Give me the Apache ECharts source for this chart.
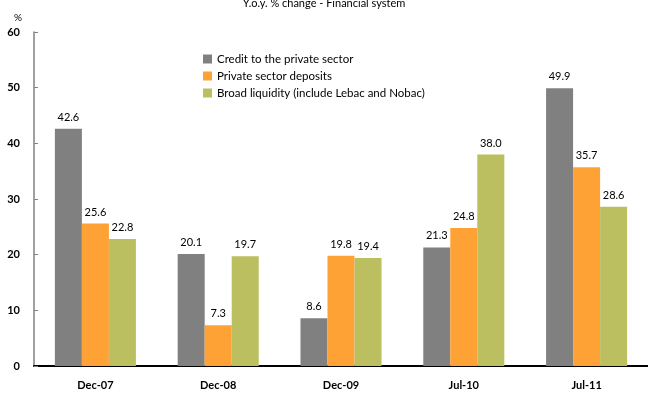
<!DOCTYPE html>
<html>
<head>
<meta charset="utf-8">
<script src="https://cdn.jsdelivr.net/npm/echarts@6/dist/echarts.min.js"></script>
<style>
  html, body { margin: 0; padding: 0; background: #fff; }
  #chart { width: 648px; height: 400px; }
</style>
</head>
<body>
<div id="chart"></div>
<script>
var categories = ["Dec-07", "Dec-08", "Dec-09", "Jul-10", "Jul-11"];
var credit = [42.6, 20.1, 8.6, 21.3, 49.9];
var deposits = [25.6, 7.3, 19.8, 24.8, 35.7];
var liquidity = [22.8, 19.7, 19.4, 38.0, 28.6];
var seriesNames = ["Credit to the private sector", "Private sector deposits", "Broad liquidity (include Lebac and Nobac)"];

var fontFamily = "Lato, 'DejaVu Sans', sans-serif";
var chartDom = echarts.init(document.getElementById("chart"));

function barSeries(name, color, data) {
  return {
    name: name,
    type: "bar",
    color: color,
    barGap: 0,
    barCategoryGap: "34%",
    label: {
      show: true,
      position: "top",
      distance: 6,
      color: "#000",
      fontSize: 11,
      fontFamily: fontFamily,
      formatter: function (p) {
        return p.value.toFixed(1);
      },
    },
    data: data,
  };
}

var option = {
  animation: false,
  title: {
    text: "Y.o.y. % change - Financial system",
    left: "center",
    top: -7,
    textStyle: { fontSize: 11, fontWeight: "normal", color: "#000", fontFamily: fontFamily },
  },
  grid: {
    left: 34,
    top: 32,
    width: 620,
    bottom: 34,
  },
  legend: {
    orient: "vertical",
    left: 198,
    top: 48,
    itemWidth: 9,
    itemHeight: 9,
    itemGap: 5,
    icon: "rect",
    data: seriesNames,
    textStyle: { color: "#000", fontSize: 11.5, fontFamily: fontFamily },
  },
  xAxis: {
    type: "category",
    data: categories,
    axisLine: { lineStyle: { color: "#000", width: 2 } },
    axisTick: { inside: true, length: 5, lineStyle: { color: "#000" } },
    axisLabel: {
      margin: 14,
      color: "#000",
      fontSize: 11,
      fontWeight: "bold",
      fontFamily: fontFamily,
    },
  },
  yAxis: {
    type: "value",
    min: 0,
    max: 60,
    interval: 10,
    name: "%",
    nameGap: 9,
    nameLocation: "end",
    nameTextStyle: { color: "#000", fontSize: 10, align: "right", padding: [0, 12, 0, 0], fontFamily: fontFamily },
    axisLine: { show: true, lineStyle: { color: "#808080", width: 1.5 } },
    axisTick: { show: true, inside: true, length: 4, lineStyle: { color: "#808080" } },
    splitLine: { show: false },
    axisLabel: {
      color: "#000",
      fontSize: 11,
      fontWeight: "bold",
      margin: 14,
      fontFamily: fontFamily,
    },
  },
  series: [
    barSeries(seriesNames[0], "#808080", credit),
    barSeries(seriesNames[1], "#FFA235", deposits),
    barSeries(seriesNames[2], "#BCBF60", liquidity),
  ],
};
chartDom.setOption(option);
</script>
</body>
</html>
